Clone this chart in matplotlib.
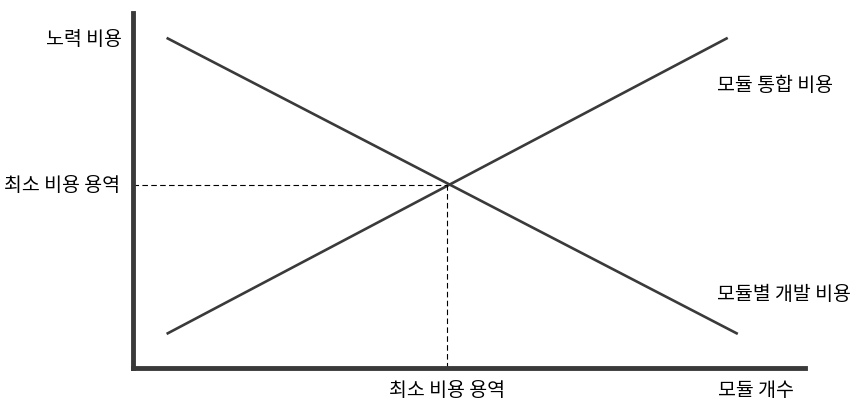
import matplotlib.pyplot as plt

plt.rcParams['font.family'] = ['Noto Sans CJK KR', 'DejaVu Sans']

# 모듈 개수 vs 비용 (개념도)
x_dev = [0.5, 9.0]
y_dev = [9.3, 0.96]      # 모듈별 개발 비용
x_int = [0.5, 8.85]
y_int = [0.96, 9.3]      # 모듈 통합 비용
x_min, y_min = 4.67, 5.15  # 최소 비용 지점

fig = plt.figure(figsize=(8.6, 4.11), dpi=100)
ax = fig.add_axes([133 / 860, 43 / 411, 672 / 860, 355 / 411])
ax.set_xlim(0, 10)
ax.set_ylim(0, 10)

col = '#3a3a3a'
ax.plot(x_dev, y_dev, color=col, lw=1.9, solid_capstyle='butt')
ax.plot(x_int, y_int, color=col, lw=1.9, solid_capstyle='butt')

# 점선
ax.plot([0, x_min], [y_min, y_min], color='black', lw=0.8, ls=(0, (5, 3)))
ax.plot([x_min, x_min], [0, y_min], color='black', lw=0.8, ls=(0, (5, 3)))

for s in ['top', 'right']:
    ax.spines[s].set_visible(False)
for s in ['left', 'bottom']:
    ax.spines[s].set_color(col)
    ax.spines[s].set_linewidth(3.5)
ax.set_xticks([])
ax.set_yticks([])

fs = 14
kw = dict(fontsize=fs, fontweight='medium', clip_on=False)
ax.text(-0.16, 9.24, '노력 비용', ha='right', va='center', **kw)
ax.text(-0.19, y_min, '최소 비용 용역', ha='right', va='center', **kw)
ax.text(8.69, 7.97, '모듈 통합 비용', ha='left', va='center', **kw)
ax.text(8.69, 2.06, '모듈별 개발 비용', ha='left', va='center', **kw)
ax.text(x_min, -0.62, '최소 비용 용역', ha='center', va='center', **kw)
ax.text(8.71, -0.62, '모듈 개수', ha='left', va='center', **kw)

fig.savefig('out.png', dpi=100)
